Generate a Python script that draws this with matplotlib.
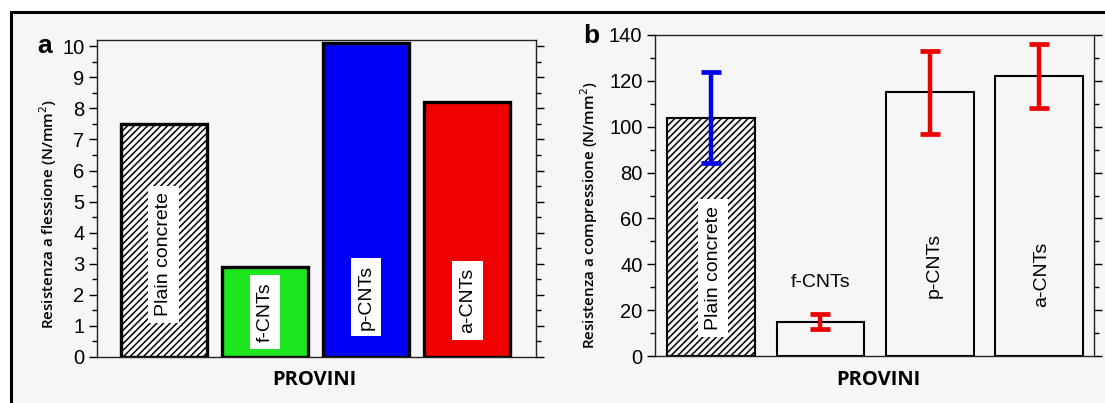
import matplotlib

matplotlib.use("Agg")
import matplotlib.pyplot as plt
from matplotlib.patches import Rectangle
from matplotlib.ticker import MultipleLocator

# data
categories = ["Plain concrete", "f-CNTs", "p-CNTs", "a-CNTs"]
flex_values = [7.5, 2.9, 10.1, 8.2]
comp_values = [104, 15, 115, 122]
comp_err = [20, 3.3, 18, 14]

flex_colors = ["white", "#1ee61e", "#0000f2", "#f20000"]
err_colors = ["#0000e8", "#ee0000", "#ee0000", "#ee0000"]

W, H = 1105, 403
BG = "#f6f6f6"
TICK_FONT = "Liberation Sans"
LABEL_FONT = "Open Sans"

matplotlib.rcParams["hatch.linewidth"] = 1.1

fig = plt.figure(figsize=(W / 100, H / 100), dpi=100)
fig.patch.set_facecolor("white")
fig.patches.append(Rectangle((11 / W, -0.2), 1.2, 1.2 - 12 / H,
                             transform=fig.transFigure, facecolor=BG,
                             edgecolor="black", linewidth=2.2, zorder=-10))


def px_axes(x0, x1, ytop, ybot):
    return fig.add_axes([x0 / W, 1 - ybot / H, (x1 - x0) / W, (ybot - ytop) / H])


def style_axis(ax, major, minor):
    ax.set_facecolor(BG)
    ax.yaxis.set_major_locator(MultipleLocator(major))
    ax.yaxis.set_minor_locator(MultipleLocator(minor))
    ax.tick_params(axis="y", which="both", left=True, right=True,
                   direction="out", labelsize=14.5, pad=3)
    ax.tick_params(axis="y", which="major", length=6, width=1)
    ax.tick_params(axis="y", which="minor", length=3.5, width=1)
    ax.tick_params(axis="x", bottom=False, labelbottom=False)
    for lbl in ax.get_yticklabels():
        lbl.set_family(TICK_FONT)
    for sp in ax.spines.values():
        sp.set_linewidth(1.0)
        sp.set_color("#222222")


# ---- panel a: flexural strength
axa = px_axes(97, 536, 40, 357)
xa = list(range(len(categories)))
bars = axa.bar(xa, flex_values, width=0.85, color=flex_colors,
               edgecolor="black", linewidth=2.4)
bars[0].set_hatch("/////")
axa.set_xlim(-0.66, 3.68)
axa.set_ylim(0, 10.2)
style_axis(axa, 1, 0.5)

label_y_a = [3.3, 1.45, 1.93, 1.83]
for x, name, y in zip(xa, categories, label_y_a):
    axa.text(x, y, name, rotation=90, ha="center", va="center",
             family=TICK_FONT, fontsize=14,
             bbox=dict(boxstyle="square,pad=0.35", facecolor="white",
                       edgecolor="none"))

# ---- panel b: compressive strength
axb = px_axes(655, 1094, 35, 356)
xb = list(range(len(categories)))
bars_b = axb.bar(xb, comp_values, width=0.8, color="none",
                 edgecolor="black", linewidth=1.5)
bars_b[0].set_hatch("/////")
for x, v, e, c in zip(xb, comp_values, comp_err, err_colors):
    axb.errorbar(x, v, yerr=e, color=c, elinewidth=3.2, capsize=7.5,
                 capthick=3.4, zorder=4)
axb.set_xlim(-0.51, 3.5)
axb.set_ylim(0, 140)
style_axis(axb, 20, 10)

axb.text(0.02, 38.4, categories[0], rotation=90, ha="center", va="center",
         family=TICK_FONT, fontsize=14,
         bbox=dict(boxstyle="square,pad=0.35", facecolor="white",
                   edgecolor="none"))
axb.text(1, 32, categories[1], ha="center", va="center",
         family=TICK_FONT, fontsize=14)
axb.text(2.04, 39.3, categories[2], rotation=90, ha="center", va="center",
         family=TICK_FONT, fontsize=14)
axb.text(3.02, 35.8, categories[3], rotation=90, ha="center", va="center",
         family=TICK_FONT, fontsize=14)

# ---- figure texts
fig.text(48 / W, 1 - 214 / H, "Resistenza a flessione (N/mm$^2$)",
         rotation=90, ha="center", va="center", family=LABEL_FONT,
         fontsize=11, fontweight="semibold")
fig.text(589 / W, 1 - 215 / H, "Resistenza a compressione (N/mm$^2$)",
         rotation=90, ha="center", va="center", family=LABEL_FONT,
         fontsize=11, fontweight="semibold")
fig.text(314 / W, 1 - 380 / H, "PROVINI", ha="center", va="center",
         family=LABEL_FONT, fontsize=14.5, fontweight="bold")
fig.text(878 / W, 1 - 380 / H, "PROVINI", ha="center", va="center",
         family=LABEL_FONT, fontsize=14.5, fontweight="bold")
fig.text(45 / W, 1 - 46 / H, "a", ha="center", va="center",
         family=TICK_FONT, fontsize=19, fontweight="bold")
fig.text(591 / W, 1 - 36 / H, "b", ha="center", va="center",
         family=TICK_FONT, fontsize=19, fontweight="bold")

fig.savefig("out.png", dpi=100, facecolor=fig.get_facecolor())
